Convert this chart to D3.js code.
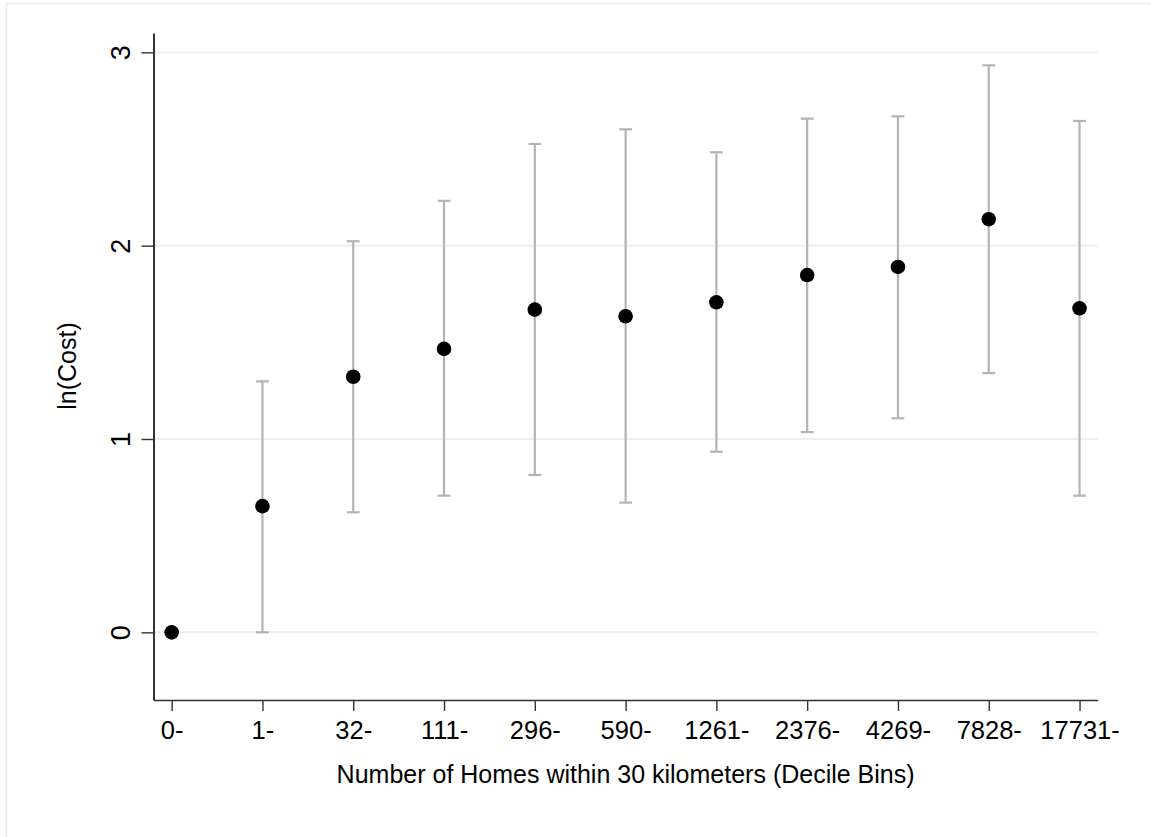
<!DOCTYPE html>
<html>
<head>
<meta charset="utf-8">
<script src="https://cdn.jsdelivr.net/npm/d3@7"></script>
<style>
  html, body { margin: 0; padding: 0; background: #ffffff; }
  svg { display: block; }
  text { font-family: "Liberation Sans", Arial, sans-serif; fill: #000; }
</style>
</head>
<body>
<svg id="chart" width="1151" height="837"></svg>
<script>
// ---- data ----
const categories = ["0-", "1-", "32-", "111-", "296-", "590-", "1261-", "2376-", "4269-", "7828-", "17731-"];
const estimates  = [0.000, 0.653, 1.322, 1.466, 1.669, 1.635, 1.707, 1.848, 1.890, 2.137, 1.676];
const ciLower    = [0.000, 0.000, 0.621, 0.707, 0.814, 0.671, 0.934, 1.036, 1.107, 1.341, 0.707];
const ciUpper    = [0.000, 1.298, 2.023, 2.232, 2.526, 2.602, 2.483, 2.657, 2.669, 2.933, 2.645];
const yTicks     = [0, 1, 2, 3];
const xTitle = "Number of Homes within 30 kilometers (Decile Bins)";
const yTitle = "ln(Cost)";

const rows = categories.map((c, i) => ({ i, c, est: estimates[i], lo: ciLower[i], hi: ciUpper[i] }));

const svg = d3.select("#chart");
const W = 1151, H = 837;
const plotL = 153.5, plotR = 1097.7, plotT = 33, plotB = 700;
const FONT = '"Liberation Sans", Arial, sans-serif';

const x = d3.scaleLinear().domain([-0.2, 10.2]).range([plotL, plotR]);
const y = d3.scaleLinear().domain([-0.35, 3.1]).range([plotB, plotT]);

// outer frame
svg.append("rect")
  .attr("x", 6.5).attr("y", 3.8)
  .attr("width", W + 10).attr("height", H + 10)
  .attr("fill", "none").attr("stroke", "#e4edf1").attr("stroke-width", 1.5);

// gridlines
svg.append("g").selectAll("line").data(yTicks).join("line")
  .attr("x1", plotL).attr("x2", plotR)
  .attr("y1", d => y(d)).attr("y2", d => y(d))
  .attr("stroke", "#e8f0f3").attr("stroke-width", 2);

// error bars
const eb = svg.append("g").attr("stroke", "#b4b4b4").attr("stroke-width", 2.2);
const ebRows = rows.filter(d => d.hi > d.lo);
eb.selectAll("line.v").data(ebRows).join("line").attr("class", "v")
  .attr("x1", d => x(d.i)).attr("x2", d => x(d.i))
  .attr("y1", d => y(d.lo)).attr("y2", d => y(d.hi));
eb.selectAll("line.capHi").data(ebRows).join("line").attr("class", "capHi")
  .attr("x1", d => x(d.i) - 6.4).attr("x2", d => x(d.i) + 6.4)
  .attr("y1", d => y(d.hi)).attr("y2", d => y(d.hi));
eb.selectAll("line.capLo").data(ebRows).join("line").attr("class", "capLo")
  .attr("x1", d => x(d.i) - 6.4).attr("x2", d => x(d.i) + 6.4)
  .attr("y1", d => y(d.lo)).attr("y2", d => y(d.lo));

// points
svg.append("g").selectAll("circle").data(rows).join("circle")
  .attr("cx", d => x(d.i)).attr("cy", d => y(d.est))
  .attr("r", 7.3).attr("fill", "#000");

// y axis
const yAxis = svg.append("g").attr("transform", `translate(${plotL},0)`)
  .call(d3.axisLeft(y).tickValues(yTicks).tickFormat(d3.format("d")).tickSize(12).tickSizeOuter(0));
yAxis.attr("font-size", null).attr("font-family", null);
yAxis.select(".domain").attr("stroke", "#000").attr("stroke-width", 1.6);
yAxis.selectAll(".tick line").attr("stroke", "#333").attr("stroke-width", 1.4);
yAxis.selectAll(".tick text")
  .attr("transform", "rotate(-90)")
  .attr("x", 0).attr("y", -24).attr("dy", null)
  .attr("text-anchor", "middle")
  .style("font-size", "27px").style("font-family", FONT).attr("fill", "#000");

// x axis
const xAxis = svg.append("g").attr("transform", `translate(0,${plotB})`)
  .call(d3.axisBottom(x).tickValues(d3.range(categories.length)).tickFormat(i => categories[i]).tickSize(11).tickPadding(10).tickSizeOuter(0));
xAxis.attr("font-size", null).attr("font-family", null);
xAxis.select(".domain").attr("stroke", "#333").attr("stroke-width", 1.6);
xAxis.selectAll(".tick line").attr("stroke", "#333").attr("stroke-width", 1.4);
xAxis.selectAll(".tick text")
  .style("font-size", "25.5px").style("font-family", FONT).attr("fill", "#000");

// titles
svg.append("text")
  .attr("x", (plotL + plotR) / 2).attr("y", 783)
  .attr("text-anchor", "middle")
  .style("font-size", "25px").style("font-family", FONT)
  .text(xTitle);

svg.append("text")
  .attr("transform", `translate(76,366) rotate(-90)`)
  .attr("text-anchor", "middle")
  .style("font-size", "25px").style("font-family", FONT)
  .text(yTitle);
</script>
</body>
</html>
